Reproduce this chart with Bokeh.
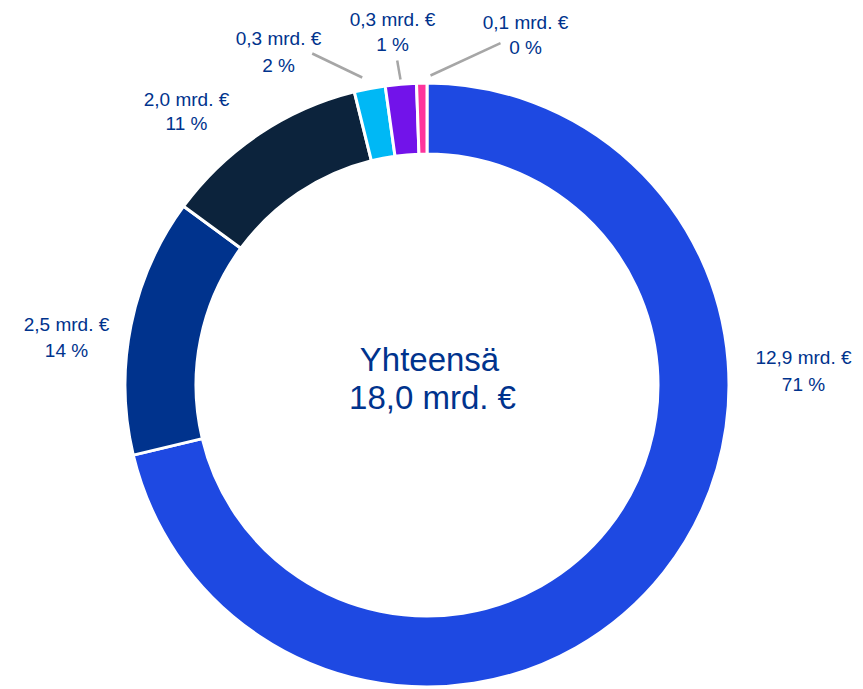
import numpy as np
from bokeh.plotting import figure
from bokeh.models import Range1d, ColumnDataSource
from bokeh.core.properties import value
from bokeh.embed import file_html
from bokeh.resources import INLINE

# ---- data ----
values = [12.9, 2.5, 2.0, 0.3, 0.3, 0.1]
shares = [71, 14, 11, 2, 1, 0]
colors = ["#1E49E2", "#00338D", "#0C233C", "#00B8F5", "#7213EA", "#FD349C"]
total_label = "18,0 mrd. €"
center_title = "Yhteensä"

# ---- layout (image pixel coords, y measured from top) ----
W, H = 863, 689
cx_img, cy_img = 426.5, 384.5
R_out, R_in = 302.0, 231.0
label_pos = [(803, 357, 384), (66, 324, 350), (186, 99, 123),
             (278, 38, 65), (392, 19, 44), (525, 22, 47)]
leaders = [None, None, None,
           ((311.7, 53), (361.7, 77)),
           ((396.7, 60), (400, 79)),
           ((500, 42.7), (430, 75))]

def Y(yimg):
    return H - yimg

p = figure(width=W, height=H, output_backend="svg", toolbar_location=None,
           x_range=Range1d(0, W), y_range=Range1d(0, H),
           min_border=0, outline_line_color=None, background_fill_color="white",
           border_fill_color="white")
p.axis.visible = False
p.grid.visible = False

tot = sum(values)
fr = np.cumsum([0] + values) / tot
start = np.pi / 2 - 2 * np.pi * fr[:-1]
end = np.pi / 2 - 2 * np.pi * fr[1:]
src = ColumnDataSource(dict(start=start, end=end, color=colors))
p.annular_wedge(x=cx_img, y=Y(cy_img), inner_radius=R_in, outer_radius=R_out,
                start_angle="start", end_angle="end", direction="clock",
                fill_color="color", line_color="white", line_width=3, source=src)

def fmt(v):
    return f"{v:.1f}".replace(".", ",") + " mrd. €"

tc = "#00338D"
font = value("Liberation Sans")
for v, s, (lx, ly1, ly2), ld in zip(values, shares, label_pos, leaders):
    p.text(x=[lx], y=[Y(ly1)], text=[fmt(v)], text_align="center", text_baseline="middle",
           text_font=font, text_font_size="19px", text_color=tc)
    p.text(x=[lx], y=[Y(ly2)], text=[f"{s} %"], text_align="center", text_baseline="middle",
           text_font=font, text_font_size="19px", text_color=tc)
    if ld is not None:
        (x0, y0), (x1, y1) = ld
        p.line(x=[x0, x1], y=[Y(y0), Y(y1)], line_color="#A6A6A6", line_width=2.5)

p.text(x=[429], y=[Y(359)], text=[center_title], text_align="center", text_baseline="middle",
       text_font=font, text_font_size="33px", text_color=tc)
p.text(x=[432], y=[Y(397)], text=[total_label], text_align="center", text_baseline="middle",
       text_font=font, text_font_size="33px", text_color=tc)

open("out.html", "w").write(file_html(p, INLINE))
